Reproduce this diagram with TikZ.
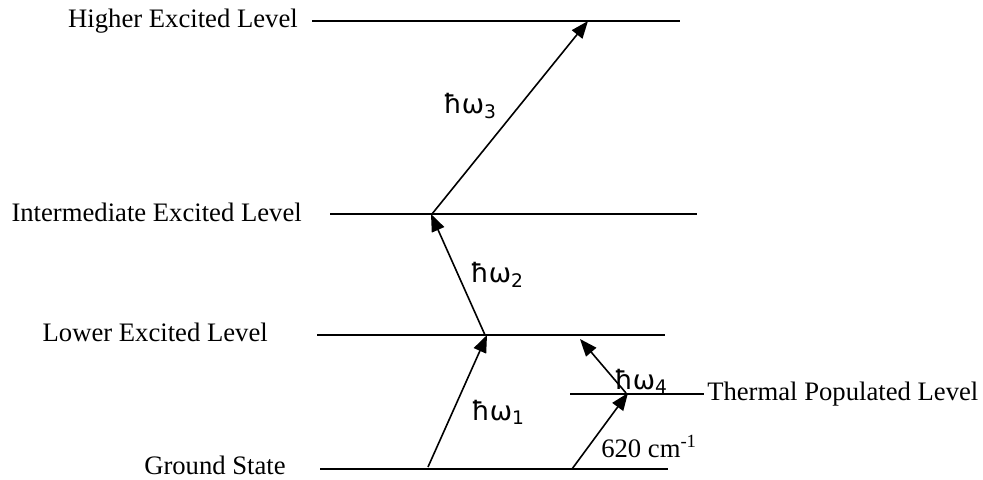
\documentclass[tikz,border=0pt]{standalone}
\usepackage{fontspec}
\setmainfont{Liberation Serif}
\newfontfamily\dvfont{DejaVu Sans}
\usetikzlibrary{arrows.meta}
\begin{document}
\begin{tikzpicture}[x=0.75pt,y=-0.75pt,
  lvl/.style={line width=1.1pt},
  trans/.style={line width=1.2pt,-{Triangle[length=13pt,width=10pt]}},
  lbl/.style={font=\fontsize{20}{24}\selectfont,inner sep=0pt},
  hw/.style={font=\dvfont\fontsize{20}{24}\selectfont,inner sep=0pt}]
\useasboundingbox (0,0) rectangle (983,479);
% levels
\coordinate (h1) at (312,21);  \coordinate (h2) at (680,21);
\coordinate (i1) at (330,214); \coordinate (i2) at (697,214);
\coordinate (l1) at (317,335); \coordinate (l2) at (665,335);
\coordinate (t1) at (570,394); \coordinate (t2) at (704,394);
\coordinate (g1) at (320,469); \coordinate (g2) at (668,469);
\draw[lvl] (h1) -- (h2);
\draw[lvl] (i1) -- (i2);
\draw[lvl] (l1) -- (l2);
\draw[lvl] (t1) -- (t2);
\draw[lvl] (g1) -- (g2);
% level labels
\node[lbl,anchor=east] (nh) at (298,21) {Higher Excited Level};
\node[lbl,anchor=east] (ni) at (302,212) {Intermediate Excited Level};
\node[lbl,anchor=east] (nl) at (268,332) {Lower Excited Level};
\node[lbl,anchor=east] (ng) at (286,465) {Ground State};
\node[lbl,anchor=west] (nt) at (707,394) {Thermal Populated Level};
% transition points
\coordinate (a1s) at (428,467); \coordinate (a1e) at (487,335);
\coordinate (a2s) at (485,335); \coordinate (a2e) at (431,214);
\coordinate (a3s) at (432,214); \coordinate (a3e) at (588,21);
\coordinate (a4s) at (626,393); \coordinate (a4e) at (580,339);
\coordinate (a5s) at (572,469); \coordinate (a5e) at (628,393);
\draw[trans] (a1s) -- (a1e);
\draw[trans] (a2s) -- (a2e);
\draw[trans] (a3s) -- (a3e);
\draw[trans] (a4s) -- (a4e);
\draw[trans] (a5s) -- (a5e);
% transition labels
\node[hw] (w1) at (498,412) {ħω\textsubscript{1}};
\node[hw] (w2) at (497,275) {ħω\textsubscript{2}};
\node[hw] (w3) at (470,106) {ħω\textsubscript{3}};
\node[hw] (w4) at (641,381) {ħω\textsubscript{4}};
\node[lbl,anchor=west] (n620) at (601,446) {620 cm\textsuperscript{-1}};
\end{tikzpicture}
\end{document}
